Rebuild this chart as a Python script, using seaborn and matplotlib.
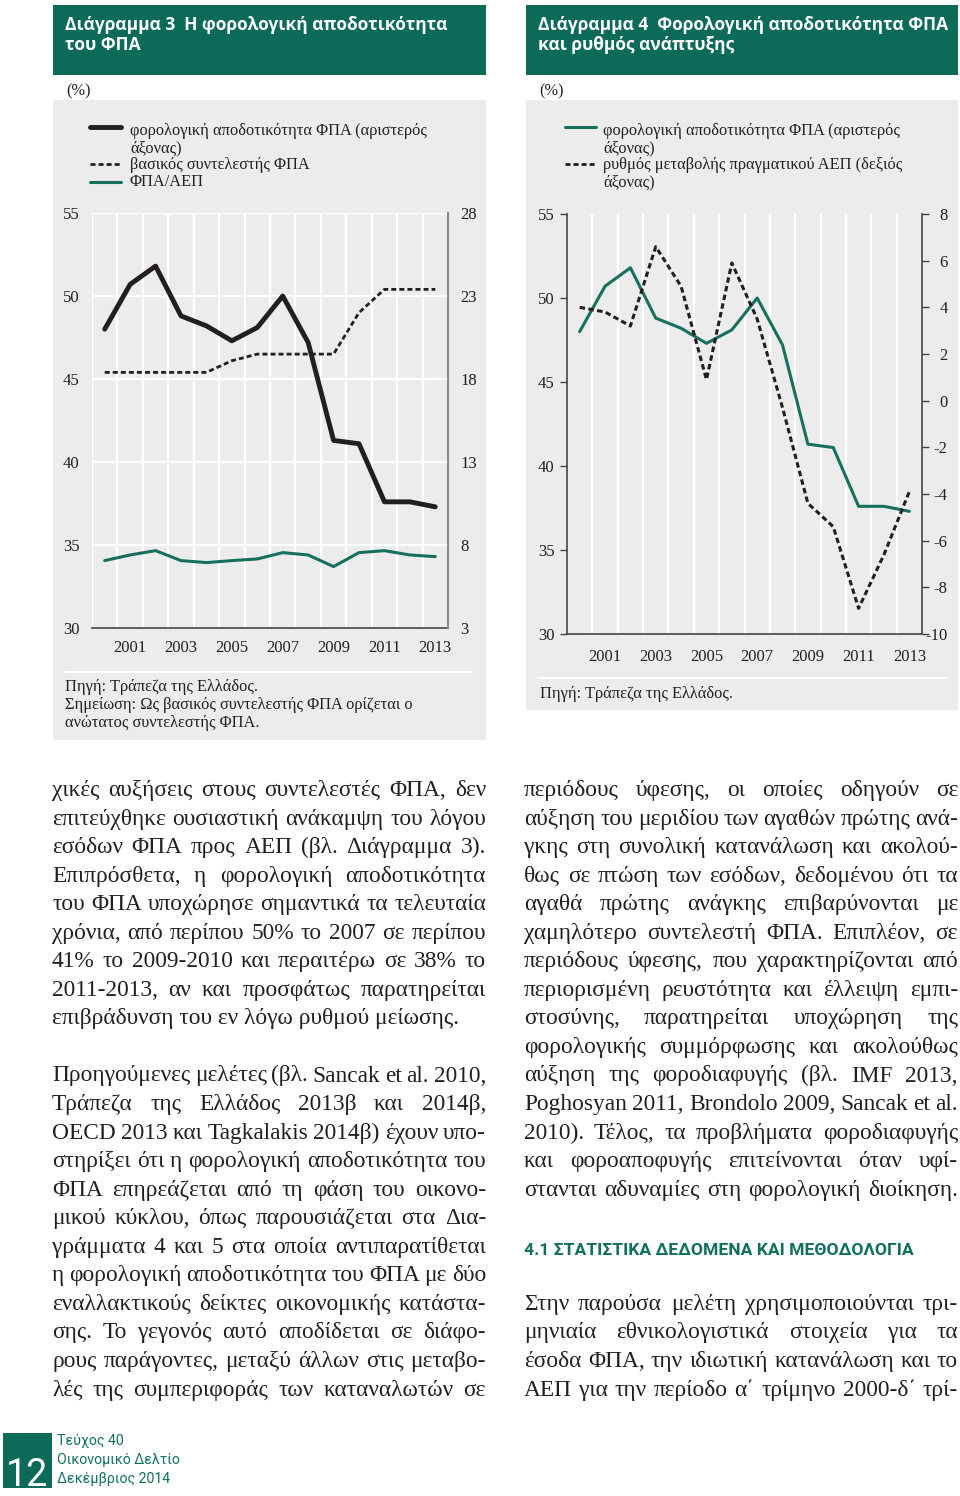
import matplotlib.pyplot as plt
import matplotlib.lines as mlines
import matplotlib.patches as mpatches
import pandas as pd
import seaborn as sns

sns.set_style("white")
plt.rcParams['font.family'] = ['Liberation Serif', 'DejaVu Serif']
plt.rcParams['axes.unicode_minus'] = False

GREEN = '#0c6a59'
TEAL = '#17705e'
PANEL = '#ececec'
INK = '#231f20'
SANS = ['Open Sans', 'DejaVu Sans']
NARROW = ['Roboto', 'DejaVu Sans']

# data (annual, %)
years = list(range(2000, 2014))
vat_efficiency = [48.0, 50.7, 51.8, 48.8, 48.2, 47.3, 48.1, 50.0, 47.2, 41.3, 41.1, 37.6, 37.6, 37.3]
vat_rate = [18.4, 18.4, 18.4, 18.4, 18.4, 19.1, 19.5, 19.5, 19.5, 19.5, 22.0, 23.4, 23.4, 23.4]
vat_gdp = [7.06, 7.4, 7.66, 7.06, 6.94, 7.06, 7.16, 7.54, 7.4, 6.7, 7.54, 7.66, 7.4, 7.3]
gdp_growth = [4.0, 3.8, 3.2, 6.6, 4.9, 0.9, 5.9, 3.5, -0.3, -4.4, -5.4, -8.9, -6.6, -3.9]
year_ticks = [2001, 2003, 2005, 2007, 2009, 2011, 2013]
left_ticks = [30, 35, 40, 45, 50, 55]
rate_ticks = [3, 8, 13, 18, 23, 28]
growth_ticks = [-10, -8, -6, -4, -2, 0, 2, 4, 6, 8]

df = pd.DataFrame({'year': years, 'vat_efficiency': vat_efficiency, 'vat_rate': vat_rate,
                   'vat_gdp': vat_gdp, 'gdp_growth': gdp_growth})
bounds = [y - 0.5 for y in years] + [years[-1] + 0.5]

left_text = [
    "χικές αυξήσεις στους συντελεστές ΦΠΑ, δεν",
    "επιτεύχθηκε ουσιαστική ανάκαμψη του λόγου",
    "εσόδων ΦΠΑ προς ΑΕΠ (βλ. Διάγραμμα 3).",
    "Επιπρόσθετα, η φορολογική αποδοτικότητα",
    "του ΦΠΑ υποχώρησε σημαντικά τα τελευταία",
    "χρόνια, από περίπου 50% το 2007 σε περίπου",
    "41% το 2009-2010 και περαιτέρω σε 38% το",
    "2011-2013, αν και προσφάτως παρατηρείται",
    "επιβράδυνση του εν λόγω ρυθμού μείωσης.",
    "",
    "Προηγούμενες μελέτες (βλ. Sancak et al. 2010,",
    "Τράπεζα της Ελλάδος 2013β και 2014β,",
    "OECD 2013 και Tagkalakis 2014β) έχουν υπο-",
    "στηρίξει ότι η φορολογική αποδοτικότητα του",
    "ΦΠΑ επηρεάζεται από τη φάση του οικονο-",
    "μικού κύκλου, όπως παρουσιάζεται στα Δια-",
    "γράμματα 4 και 5 στα οποία αντιπαρατίθεται",
    "η φορολογική αποδοτικότητα του ΦΠΑ με δύο",
    "εναλλακτικούς δείκτες οικονομικής κατάστα-",
    "σης. Το γεγονός αυτό αποδίδεται σε διάφο-",
    "ρους παράγοντες, μεταξύ άλλων στις μεταβο-",
    "λές της συμπεριφοράς των καταναλωτών σε",
]
right_text = [
    "περιόδους ύφεσης, οι οποίες οδηγούν σε",
    "αύξηση του μεριδίου των αγαθών πρώτης ανά-",
    "γκης στη συνολική κατανάλωση και ακολού-",
    "θως σε πτώση των εσόδων, δεδομένου ότι τα",
    "αγαθά πρώτης ανάγκης επιβαρύνονται με",
    "χαμηλότερο συντελεστή ΦΠΑ. Επιπλέον, σε",
    "περιόδους ύφεσης, που χαρακτηρίζονται από",
    "περιορισμένη ρευστότητα και έλλειψη εμπι-",
    "στοσύνης, παρατηρείται υποχώρηση της",
    "φορολογικής συμμόρφωσης και ακολούθως",
    "αύξηση της φοροδιαφυγής (βλ. IMF 2013,",
    "Poghosyan 2011, Brondolo 2009, Sancak et al.",
    "2010). Τέλος, τα προβλήματα φοροδιαφυγής",
    "και φοροαποφυγής επιτείνονται όταν υφί-",
    "στανται αδυναμίες στη φορολογική διοίκηση.",
    "",
    "",
    "",
    "Στην παρούσα μελέτη χρησιμοποιούνται τρι-",
    "μηνιαία εθνικολογιστικά στοιχεία για τα",
    "έσοδα ΦΠΑ, την ιδιωτική κατανάλωση και το",
    "ΑΕΠ για την περίοδο α΄ τρίμηνο 2000-δ΄ τρί-",
]
section_title = "4.1 ΣΤΑΤΙΣΤΙΚΑ ΔΕΔΟΜΕΝΑ ΚΑΙ ΜΕΘΟΔΟΛΟΓΙΑ"
footer_lines = ["Τεύχος 40", "Οικονομικό Δελτίο", "Δεκέμβριος 2014"]

W, H = 960, 1496
fig = plt.figure(figsize=(W / 100, H / 100), dpi=100)
fig.patch.set_facecolor('white')
renderer = fig.canvas.get_renderer()


def fx(x):
    return x / W


def fy(y):
    return 1 - y / H


def add_ax(x0, y0, x1, y1):
    return fig.add_axes([fx(x0), fy(y1), (x1 - x0) / W, (y1 - y0) / H])


def rect(x0, y0, x1, y1, color):
    fig.add_artist(mpatches.Rectangle((fx(x0), fy(y1)), (x1 - x0) / W, (y1 - y0) / H,
                                      transform=fig.transFigure, facecolor=color,
                                      edgecolor='none', zorder=-2))


def hline(x0, x1, y, **kw):
    fig.add_artist(mlines.Line2D([fx(x0), fx(x1)], [fy(y), fy(y)], transform=fig.transFigure, **kw))


def txt(x, y, s, **kw):
    kw.setdefault('color', INK)
    kw.setdefault('va', 'baseline')
    return fig.text(fx(x), fy(y), s, **kw)


def text_width(s, **kw):
    t = fig.text(0, 0, s, **kw)
    wd = t.get_window_extent(renderer=renderer).width
    t.remove()
    return wd


def fit_size(s, width, **kw):
    return 10 * width / text_width(s, fontsize=10, **kw)


# panels and headers
rect(53, 5, 486, 75, GREEN)
rect(526, 5, 958, 75, GREEN)
rect(53, 100, 486, 740, PANEL)
rect(526, 100, 958, 710, PANEL)
head = dict(color='white', family=SANS, fontsize=12.5, fontweight='bold')
txt(65, 30, "Διάγραμμα 3  Η φορολογική αποδοτικότητα", **head)
txt(65, 50, "του ΦΠΑ", **head)
txt(538, 30, "Διάγραμμα 4  Φορολογική αποδοτικότητα ΦΠΑ", **head)
txt(538, 50, "και ρυθμός ανάπτυξης", **head)
txt(66, 95, "(%)", fontsize=11.8)
txt(539, 95, "(%)", fontsize=11.8)

# legends
DASH = (0, (1.8, 1.1))
hline(90, 121, 127, color=INK, lw=3.5)
hline(90, 121, 164, color=INK, lw=2, linestyle=DASH)
hline(90, 121, 182, color=TEAL, lw=2.2)
for yy, s in [(135, "φορολογική αποδοτικότητα ΦΠΑ (αριστερός"), (152, "άξονας)"),
              (169, "βασικός συντελεστής ΦΠΑ"), (186, "ΦΠΑ/ΑΕΠ")]:
    txt(130, yy, s, fontsize=11.8)
hline(565, 596, 127, color=TEAL, lw=2.2)
hline(565, 596, 164, color=INK, lw=2, linestyle=DASH)
for yy, s in [(135, "φορολογική αποδοτικότητα ΦΠΑ (αριστερός"), (152, "άξονας)"),
              (169, "ρυθμός μεταβολής πραγματικού ΑΕΠ (δεξιός"), (186, "άξονας)")]:
    txt(603, yy, s, fontsize=11.8)


def style_x(ax, pad):
    ax.set_xlim(bounds[0], bounds[-1])
    ax.set_xticks(year_ticks)
    ax.set_xticklabels([str(y) for y in year_ticks])
    ax.set_xticks(bounds, minor=True)
    ax.tick_params(axis='x', which='major', length=0, pad=pad, labelsize=12, labelcolor=INK)
    ax.tick_params(axis='x', which='minor', length=5, width=1, direction='out', color='#444444')
    ax.grid(True, which='minor', axis='x', color='white', lw=1.6)
    ax.set_xlabel('')
    ax.set_ylabel('')


# ---- chart 3
ax1 = add_ax(92, 213, 448, 628)
ax1.set_facecolor('none')
sns.lineplot(data=df, x='year', y='vat_efficiency', ax=ax1, color=INK, lw=3.5)
ax1.set_ylim(30, 55)
ax1.set_yticks(left_ticks)
style_x(ax1, 9)
ax1.grid(True, which='major', axis='y', color='white', lw=1.6)
ax1.tick_params(axis='y', length=0, pad=9, labelsize=12, labelcolor=INK)
for side in ['left', 'top', 'right']:
    ax1.spines[side].set_visible(False)
ax1.spines['bottom'].set_color('#444444')
ax1.spines['bottom'].set_linewidth(1.2)

ax1b = ax1.twinx()
sns.lineplot(data=df, x='year', y='vat_rate', ax=ax1b, color=INK, lw=2, linestyle=DASH)
sns.lineplot(data=df, x='year', y='vat_gdp', ax=ax1b, color=TEAL, lw=2.2)
ax1b.set_ylim(3, 28)
ax1b.set_yticks(rate_ticks)
ax1b.set_ylabel('')
ax1b.tick_params(axis='y', length=0, pad=9, labelsize=12, labelcolor=INK)
for side in ['left', 'top', 'bottom']:
    ax1b.spines[side].set_visible(False)
ax1b.spines['right'].set_color('#8a8a8a')
ax1b.spines['right'].set_linewidth(1.5)

hline(65, 472, 672, color='white', lw=1.5)
txt(65, 691, "Πηγή: Τράπεζα της Ελλάδος.", fontsize=11.8)
txt(65, 709, "Σημείωση: Ως βασικός συντελεστής ΦΠΑ ορίζεται ο", fontsize=11.8)
txt(65, 727, "ανώτατος συντελεστής ΦΠΑ.", fontsize=11.8)

# ---- chart 4
ax2 = add_ax(567, 214, 922, 634)
ax2.set_facecolor('none')
sns.lineplot(data=df, x='year', y='vat_efficiency', ax=ax2, color=TEAL, lw=2.2)
ax2.set_ylim(30, 55)
ax2.set_yticks(left_ticks)
style_x(ax2, 11)
ax2.tick_params(axis='y', length=5, width=1, direction='out', color='#444444', pad=4,
                labelsize=12, labelcolor=INK)
ax2.spines['top'].set_visible(False)
ax2.spines['right'].set_visible(False)
for side in ['left', 'bottom']:
    ax2.spines[side].set_color('#444444')
    ax2.spines[side].set_linewidth(1.2)

ax2b = ax2.twinx()
sns.lineplot(data=df, x='year', y='gdp_growth', ax=ax2b, color=INK, lw=2.2, linestyle=DASH)
ax2b.set_ylim(-10, 8)
ax2b.set_yticks(growth_ticks)
ax2b.set_ylabel('')
ax2b.tick_params(axis='y', length=5, width=1, direction='out', color='#444444', pad=13.5,
                 labelsize=12, labelcolor=INK)
for lab in ax2b.get_yticklabels():
    lab.set_horizontalalignment('right')
for side in ['left', 'top', 'bottom']:
    ax2b.spines[side].set_visible(False)
ax2b.spines['right'].set_color('#444444')
ax2b.spines['right'].set_linewidth(1.2)

hline(538, 947, 678, color='white', lw=1.5)
txt(540, 698, "Πηγή: Τράπεζα της Ελλάδος.", fontsize=11.8)

# ---- body text, justified by hand
BODY = 16.8


def place_column(lines, x0, x1, base, step, ragged=()):
    for i, line in enumerate(lines):
        if not line:
            continue
        y = base + i * step
        words = line.split(' ')
        if i in ragged or len(words) == 1:
            txt(x0, y, line, fontsize=BODY)
            continue
        size = BODY
        widths = [text_width(w, fontsize=size) for w in words]
        # shrink a crowded line slightly rather than let words touch
        while (x1 - x0) - sum(widths) < 3.5 * (len(words) - 1):
            size -= 0.2
            widths = [text_width(w, fontsize=size) for w in words]
        gap = ((x1 - x0) - sum(widths)) / (len(words) - 1)
        x = x0
        for w, wd in zip(words, widths):
            txt(x, y, w, fontsize=size)
            x += wd + gap


place_column(left_text, 52, 486, 796, 28.55, ragged={8})
place_column(right_text, 524, 958, 796, 28.55)
sec_kw = dict(family=NARROW, fontweight='bold')
txt(524, 1255, section_title, color='#12705f',
    fontsize=fit_size(section_title, 388, **sec_kw), **sec_kw)

# footer
rect(3, 1433, 52, 1488, GREEN)
txt(6, 1486, "12", color='white', family=NARROW, fontsize=fit_size("12", 42, family=NARROW))
foot_size = fit_size(footer_lines[1], 122, family=NARROW)
for yy, s in zip([1445, 1464, 1483], footer_lines):
    txt(57, yy, s, color='#12705f', family=NARROW, fontsize=foot_size)

fig.savefig('out.png', dpi=100)
